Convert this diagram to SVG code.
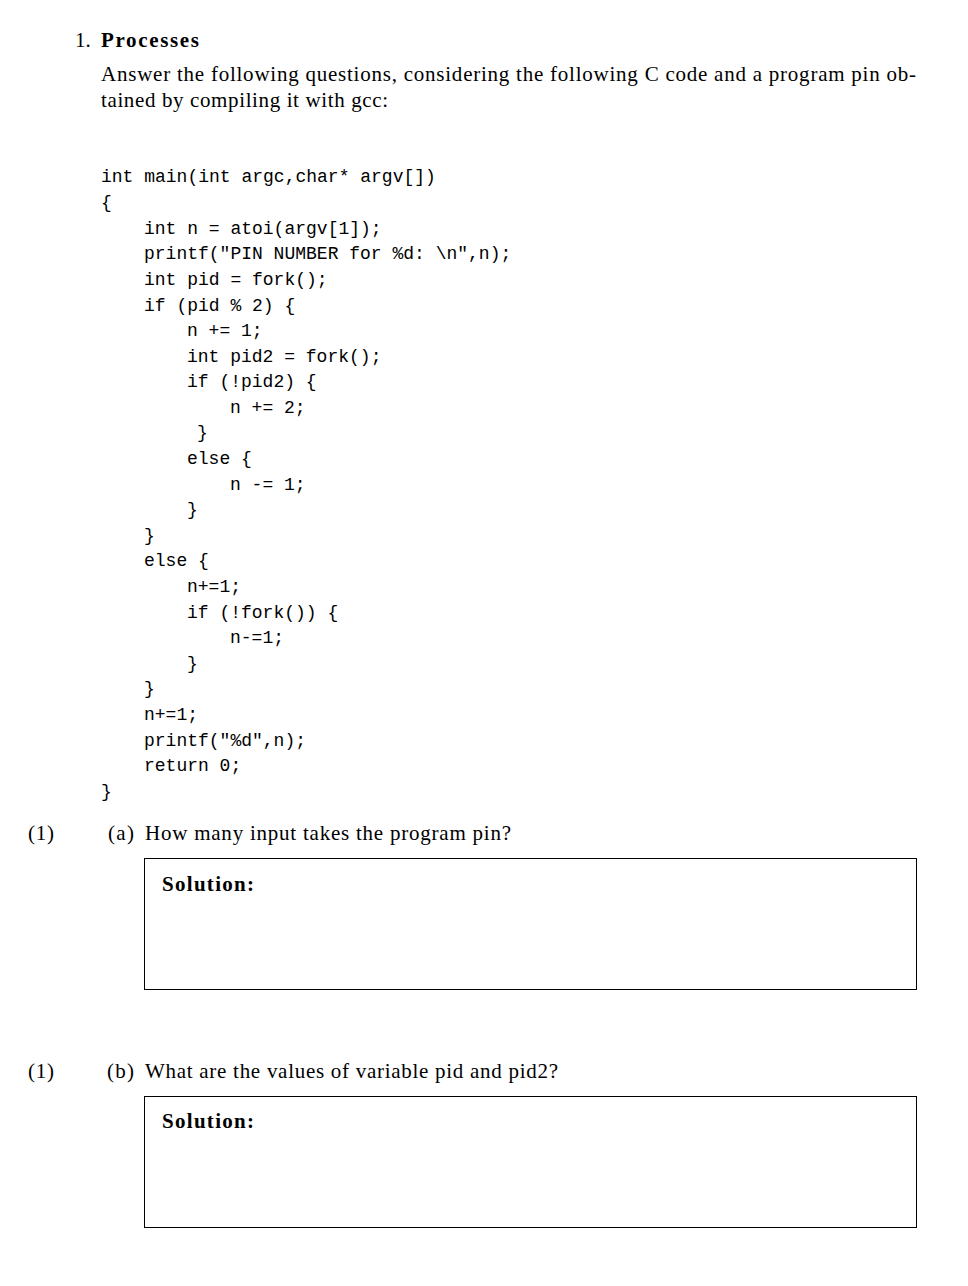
<svg xmlns="http://www.w3.org/2000/svg" width="968" height="1286" viewBox="0 0 968 1286">
<style>
.t{font-family:"Liberation Serif",serif;font-size:21px;fill:#000}
.b{font-weight:bold}
.c{font-family:"Liberation Mono",monospace;font-size:18px;fill:#000}
.box{fill:none;stroke:#000;stroke-width:1}
</style>
<rect width="968" height="1286" fill="#fff"/>
<text class="t" x="75" y="47">1.</text>
<text class="t b" x="101" y="47" textLength="98" lengthAdjust="spacing">Processes</text>
<text class="t" x="101" y="81" textLength="815" lengthAdjust="spacing">Answer the following questions, considering the following C code and a program pin ob-</text>
<text class="t" x="101" y="107" textLength="287" lengthAdjust="spacing">tained by compiling it with gcc:</text>
<g class="c">
<text x="101" y="182">int main(int argc,char* argv[])</text>
<text x="101" y="208">{</text>
<text x="144" y="234">int n = atoi(argv[1]);</text>
<text x="144" y="259">printf("PIN NUMBER for %d: \n",n);</text>
<text x="144" y="285">int pid = fork();</text>
<text x="144" y="311">if (pid % 2) {</text>
<text x="187" y="336">n += 1;</text>
<text x="187" y="362">int pid2 = fork();</text>
<text x="187" y="387">if (!pid2) {</text>
<text x="230" y="413">n += 2;</text>
<text x="197" y="438">}</text>
<text x="187" y="464">else {</text>
<text x="230" y="490">n -= 1;</text>
<text x="187" y="515">}</text>
<text x="144" y="541">}</text>
<text x="144" y="566">else {</text>
<text x="187" y="592">n+=1;</text>
<text x="187" y="618">if (!fork()) {</text>
<text x="230" y="643">n-=1;</text>
<text x="187" y="669">}</text>
<text x="144" y="694">}</text>
<text x="144" y="720">n+=1;</text>
<text x="144" y="746">printf("%d",n);</text>
<text x="144" y="771">return 0;</text>
<text x="101" y="797">}</text>
</g>
<text class="t" x="28" y="840" textLength="26" lengthAdjust="spacing">(1)</text>
<text class="t" x="108" y="840" textLength="26" lengthAdjust="spacing">(a)</text>
<text class="t" x="145" y="840" textLength="366" lengthAdjust="spacing">How many input takes the program pin?</text>
<g id="solA"><rect class="box" x="144.5" y="858.5" width="772" height="131"/>
<text class="t b" x="162" y="891" textLength="92" lengthAdjust="spacing">Solution:</text></g>
<text class="t" x="28" y="1078" textLength="26" lengthAdjust="spacing">(1)</text>
<text class="t" x="107" y="1078" textLength="27" lengthAdjust="spacing">(b)</text>
<text class="t" x="145" y="1078" textLength="413" lengthAdjust="spacing">What are the values of variable pid and pid2?</text>
<g id="solB"><rect class="box" x="144.5" y="1096.5" width="772" height="131"/>
<text class="t b" x="162" y="1128" textLength="92" lengthAdjust="spacing">Solution:</text></g>
</svg>
